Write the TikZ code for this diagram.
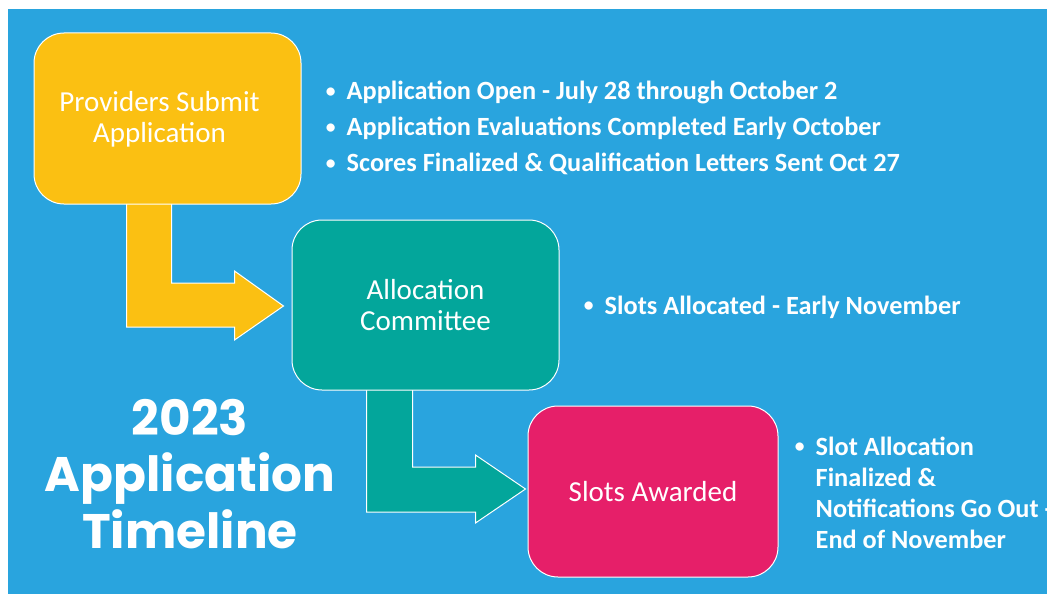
\documentclass[tikz,border=0pt]{standalone}
\usepackage{fontspec}
\setmainfont{Carlito}
\newfontfamily\titlefont{Poppins}
\usetikzlibrary{calc}
\definecolor{bgblue}{HTML}{29A4DE}
\definecolor{stageyellow}{HTML}{FBC012}
\definecolor{stageteal}{HTML}{03A69B}
\definecolor{stagepink}{HTML}{E61F69}
\newcommand\bulletmark{\makebox[9pt][c]{\raisebox{2.2pt}{\fontsize{19.5}{19.5}\selectfont\textbullet}}\hspace{11.5pt}}
\newcommand\hangmark{\hspace*{20.5pt}}
\pgfdeclarelayer{backdrop}
\pgfdeclarelayer{arrows}
\pgfsetlayers{backdrop,arrows,main}
\begin{document}
\begin{tikzpicture}[x=1pt,y=-1pt,
  stagebox/.style={draw=white,line width=1pt,rounded corners=30pt,
    minimum height=171pt,inner sep=0pt,text=white,align=center,
    font=\fontsize{29}{31.5}\selectfont},
  boxtext/.style={inner sep=0pt,text=white,align=center,
    font=\fontsize{29}{31.5}\selectfont},
  blockarrow/.style={draw=white,line width=1pt,line join=miter},
  bullets/.style={anchor=base west,inner sep=0pt,text=white},
  titletext/.style={anchor=base,inner sep=0pt,text=white,
    font=\titlefont\bfseries\fontsize{48.5}{56.5}\selectfont}]
\useasboundingbox (0,0) rectangle (1047,594);
\begin{pgfonlayer}{backdrop}
  \fill[white] (0,0) rectangle (1047,594);
  \fill[bgblue] (8,9) rectangle (1047,594);
\end{pgfonlayer}

% the three stages
\node[stagebox,fill=stageyellow,minimum width=267pt] (p) at (167.5,118.5) {};
\node[boxtext] (ptext) at ($(p.center)+(-8,1)$) {Providers Submit\\Application};
\node[stagebox,fill=stageteal,minimum width=267pt,minimum height=170pt] (ac) at (425.5,305) {Allocation\\Committee};
\node[stagebox,fill=stagepink,minimum width=250pt] (aw) at (653,491.5) {Slots Awarded};

% bent block arrow: providers -> committee
\coordinate (t1) at ($(ac.west)+(-8,1)$);
\coordinate (a1) at ($(p.south west)+(93,-2)$);
\coordinate (b1) at ($(p.south west)+(138,-2)$);
\coordinate (c1) at ($(b1 |- t1)+(0,-23)$);
\coordinate (i1) at ($(a1 |- t1)+(0,21)$);
\begin{pgfonlayer}{arrows}
\filldraw[blockarrow,fill=stageyellow] (a1) -- (b1) -- (c1)
  -- ($(t1)+(-49,-23)$) -- ($(t1)+(-49,-35)$) -- (t1)
  -- ($(t1)+(-49,34)$) -- ($(t1)+(-49,21)$) -- (i1) -- cycle;
\end{pgfonlayer}

% bent block arrow: committee -> awarded
\coordinate (t2) at ($(aw.west)+(-2,-2.5)$);
\coordinate (a2) at ($(ac.south west)+(75,-2)$);
\coordinate (b2) at ($(ac.south west)+(121,-2)$);
\coordinate (c2) at ($(b2 |- t2)+(0,-22)$);
\coordinate (i2) at ($(a2 |- t2)+(0,23)$);
\begin{pgfonlayer}{arrows}
\filldraw[blockarrow,fill=stageteal] (a2) -- (b2) -- (c2)
  -- ($(t2)+(-50,-22)$) -- ($(t2)+(-50,-34)$) -- (t2)
  -- ($(t2)+(-50,34)$) -- ($(t2)+(-50,23)$) -- (i2) -- cycle;
\end{pgfonlayer}

% milestones
\node[bullets,font=\bfseries\fontsize{26.3}{36}\selectfont] (l1) at (326,99.5)
  {\begin{tabular}[t]{@{}l@{}}
   \bulletmark Application Open - July 28 through October 2\\
   \bulletmark Application Evaluations Completed Early October\\
   \bulletmark Scores Finalized \& Qualification Letters Sent Oct 27
   \end{tabular}};
\node[bullets,font=\bfseries\fontsize{26.3}{31.3}\selectfont] (l2) at (584,314)
  {\begin{tabular}[t]{@{}l@{}}\bulletmark Slots Allocated - Early November\end{tabular}};
\node[bullets,font=\bfseries\fontsize{26.3}{31.3}\selectfont] (l3) at (795,455)
  {\begin{tabular}[t]{@{}l@{}}
   \bulletmark Slot Allocation\\
   \hangmark Finalized \&\\
   \hangmark Notifications Go Out -\\
   \hangmark End of November
   \end{tabular}};

% title
\node[titletext] (title) at (190,435)
  {\begin{tabular}[t]{@{}c@{}}2023\\Application\\Timeline\end{tabular}};
\end{tikzpicture}
\end{document}
